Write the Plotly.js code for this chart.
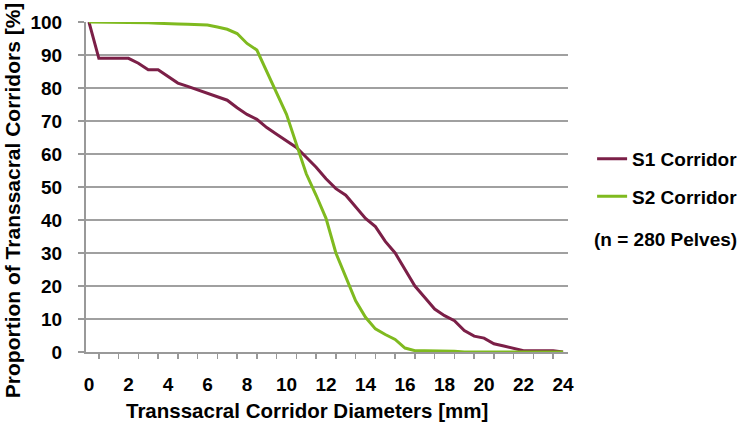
<!DOCTYPE html>
<html>
<head>
<meta charset="utf-8">
<script src="https://cdn.plot.ly/plotly-3.0.1.min.js"></script>
<style>html,body{margin:0;padding:0;background:#fff;}#chart{width:747px;height:422px;}</style>
</head>
<body>
<div id="chart"></div>
<script>
// Corridor diameters [mm], 0.5 mm steps
const diameters = [0,0.5,1,1.5,2,2.5,3,3.5,4,4.5,5,5.5,6,6.5,7,7.5,8,8.5,9,9.5,10,10.5,11,11.5,12,12.5,13,13.5,14,14.5,15,15.5,16,16.5,17,17.5,18,18.5,19,19.5,20,20.5,21,21.5,22,22.5,23,23.5,24];
// Proportion of transsacral corridors [%]
const s1Values = [100,89,89,89,89,87.5,85.5,85.5,83.5,81.5,80.5,79.5,78.3,77.3,76.3,74,72,70.5,68,66,64,62,59,56,52.5,49.5,47.5,44,40.5,38,33.5,30,25,20,16.5,13,11,9.5,6.5,4.8,4.2,2.5,1.8,1,0.4,0.4,0.4,0.4,0];
const s2Values = [100,100,100,100,100,100,99.8,99.6,99.6,99.4,99.3,99.2,99.1,98.5,97.8,96.5,93.5,91.5,85,78.5,72,63,54,47.5,40.5,30,22.5,15.5,10.5,7,5.3,3.8,1.2,0.4,0.4,0.4,0.4,0.2,0,0,0,0,0,0,0,0,0,0,0];
const seriesNames = ["S1 Corridor","S2 Corridor"];
const xTickVals = [0,2,4,6,8,10,12,14,16,18,20,22,24];
const yTickVals = [0,10,20,30,40,50,60,70,80,90,100];
const noteText = "(n = 280 Pelves)";
const xTitle = "Transsacral Corridor Diameters [mm]";
const yTitle = "Proportion of Transsacral Corridors [%]";

const FONT = "Liberation Sans, Arial, sans-serif";
const traces = [
  {x: diameters, y: s1Values, name: seriesNames[0], type: "scatter", mode: "lines",
   line: {color: "#7b1f47", width: 3}, legendgroup: "a"},
  {x: diameters, y: s2Values, name: seriesNames[1], type: "scatter", mode: "lines",
   line: {color: "#7fba1f", width: 3}, legendgroup: "b"}
];
const layout = {
  width: 747, height: 422,
  margin: {l: 86, r: 179, t: 22, b: 70, autoexpand: false},
  paper_bgcolor: "#fff", plot_bgcolor: "#fff",
  font: {family: FONT, size: 19, color: "#000", weight: "bold"},
  showlegend: true,
  legend: {x: 1.05, xanchor: "left", y: 0.643, yanchor: "top",
           font: {family: FONT, size: 19, color: "#000", weight: "bold"},
           traceorder: "grouped", tracegroupgap: 10, itemwidth: 30},
  xaxis: {range: [-0.15, 24.25], tickvals: xTickVals, ticktext: xTickVals.map(String),
          showgrid: false, zeroline: false, showline: true, linecolor: "#999", linewidth: 2,
          ticks: "", ticklen: 0, ticklabelstandoff: 14, automargin: false,
          minor: {tick0: 0.5, dtick: 1, ticks: "outside", ticklen: 5, tickcolor: "#999", tickwidth: 1.5, showgrid: false},
          tickfont: {family: FONT, size: 19, weight: "bold"}, fixedrange: true},
  yaxis: {range: [0, 100], tickvals: yTickVals, showgrid: true, gridcolor: "#a0a0a0", gridwidth: 2,
          zeroline: false, showline: true, linecolor: "#999", linewidth: 2, automargin: false,
          ticks: "outside", ticklen: 6, tickcolor: "#999", tickwidth: 1.5, ticklabelstandoff: 12,
          tickfont: {family: FONT, size: 19, weight: "bold"}, fixedrange: true},
  annotations: [
    {text: noteText, xref: "paper", yref: "paper", x: 1.05, y: 0.34, xanchor: "left", yanchor: "middle",
     showarrow: false, font: {family: FONT, size: 19, weight: "bold"}},
    {text: xTitle, xref: "paper", yref: "paper", x: 0.458, y: 0, yshift: -58, xanchor: "center", yanchor: "middle",
     showarrow: false, font: {family: FONT, size: 20.5, weight: "bold"}},
    {text: yTitle, xref: "paper", yref: "paper", x: 0, xshift: -74, y: 0.46, xanchor: "center", yanchor: "middle",
     textangle: -90, showarrow: false, font: {family: FONT, size: 21, weight: "bold"}}
  ]
};
Plotly.newPlot("chart", traces, layout, {displayModeBar: false, staticPlot: true});
</script>
</body>
</html>
